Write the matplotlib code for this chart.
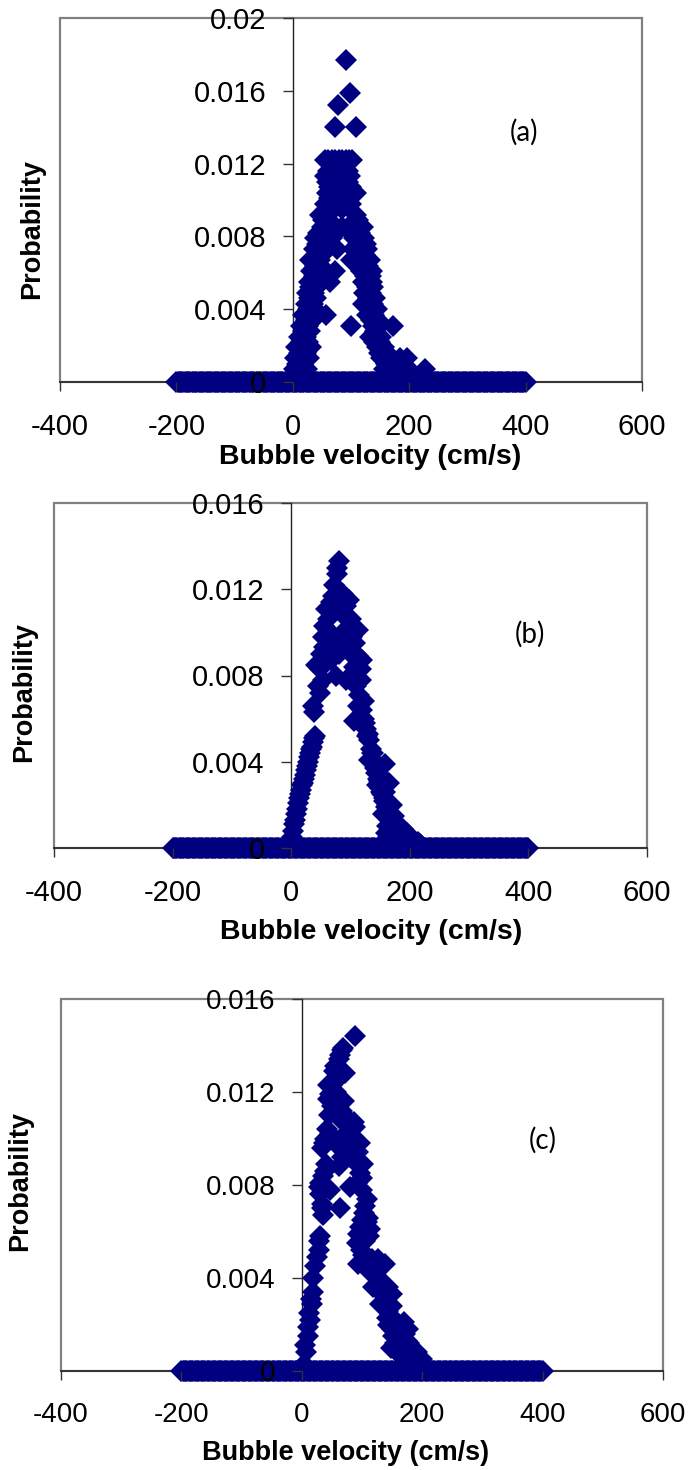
import numpy as np
import matplotlib
matplotlib.use("Agg")
import matplotlib.pyplot as plt
from matplotlib.patches import Rectangle

# ---------------- data ----------------
# histogram bin centres where the probability is zero (-200 .. 400 cm/s)
zero_start, zero_stop, zero_step = -200, 400, 2

# Panel (a): probability levels and the velocities sitting on each level
a_levels = [0.0177, 0.0159, 0.0152, 0.0140, 0.0122, 0.0116, 0.0113, 0.0110,
            0.0107, 0.0104, 0.0101, 0.0098, 0.0095, 0.0092, 0.0089, 0.0085,
            0.0082, 0.0079, 0.0076, 0.0073, 0.0070, 0.0067, 0.0064, 0.0061,
            0.0058, 0.0055, 0.0052, 0.0049, 0.0046, 0.0043, 0.0040, 0.0037,
            0.0034, 0.0031, 0.0028, 0.0025, 0.0022, 0.0019, 0.0016, 0.0013,
            0.0010, 0.0007, 0.0004]
a_vels = [[91], [98], [78], [73, 108],
          [55, 61, 67, 73, 79, 85, 91, 97, 101],
          [60, 68, 76, 86, 94], [56, 64, 72, 90, 98], [58, 66, 80, 94],
          [62, 70, 84, 100], [58, 66, 74, 90, 98, 108], [62, 70, 82, 94],
          [56, 66, 76, 88, 100], [60, 70, 84], [46, 108], [52, 112],
          [50, 58, 66, 74, 84, 94, 104, 112, 120],
          [44, 56, 100, 116], [38, 48, 68, 106, 122], [42, 54, 112, 126],
          [36, 46, 76, 104, 118, 128], [40, 50, 110, 124],
          [30, 36, 46, 100, 116, 132], [38, 48, 120, 130],
          [32, 44, 72, 118, 136], [36, 46, 124, 134], [28, 40, 64, 120, 136],
          [30, 42, 128, 138], [24, 36, 122, 134], [28, 40, 130, 142],
          [22, 34, 120, 126, 138], [26, 38, 132, 144], [18, 30, 57, 128, 140],
          [22, 34, 134, 146], [14, 26, 100, 138, 148, 172], [18, 30, 142],
          [10, 22, 132, 144, 152], [14, 26, 140, 150], [6, 18, 32, 144, 156],
          [10, 22, 148, 162], [4, 14, 28, 152, 170, 184, 196],
          [8, 18, 160, 176, 190], [2, 12, 24, 156, 168, 182, 200, 228],
          [6, 16, 162, 174, 188, 206]]

# Panel (b)
vel_b = [0, 2, 3, 5, 7, 8, 10, 12, 13, 15, 17, 18, 20, 22, 23, 25, 27, 28, 30,
         32, 33, 35, 37, 39, 40,
         36, 39, 45, 48, 53, 48, 42, 53, 50, 56, 53, 62, 56, 62, 59, 67, 70,
         73, 78, 78, 81,
         87, 98, 92, 84, 101, 112, 90, 84, 95, 76, 81, 67, 98, 112, 120, 106,
         76, 92, 104, 109, 115, 112, 106, 120, 123, 126, 132, 134, 132, 140,
         143, 146, 154, 151, 157, 162, 165, 160, 174, 179, 188, 196, 204, 213,
         221, 171, 182, 154, 158, 163, 165, 150, 145, 168, 138, 128,
         125, 129, 136, 138, 141, 148, 150, 153, 156, 160, 163, 167, 170, 176,
         184, 192, 200, 208, 217, 145, 158, 170, 162, 118, 122, 117, 108, 103]
prob_b = [0.0002, 0.0005, 0.0008, 0.0011, 0.0013, 0.0016, 0.0018, 0.0021,
          0.0023, 0.0025, 0.0027, 0.0029, 0.0030, 0.0032, 0.0034, 0.0036,
          0.0038, 0.0040, 0.0042, 0.0044, 0.0046, 0.0047, 0.0049, 0.0051,
          0.0052,
          0.0066, 0.0063, 0.0075, 0.0072, 0.0078, 0.0083, 0.0085, 0.0087,
          0.0090, 0.0093, 0.0098, 0.0101, 0.0103, 0.0106, 0.0111, 0.0114,
          0.0117, 0.0122, 0.0127, 0.0130, 0.0133,
          0.0118, 0.0115, 0.0112, 0.0109, 0.0106, 0.0101, 0.0101, 0.0098,
          0.0095, 0.0094, 0.0090, 0.0087, 0.0091, 0.0089, 0.0087, 0.0084,
          0.0080, 0.0078, 0.0080, 0.0075, 0.0071, 0.0066, 0.0059, 0.0064,
          0.0060, 0.0055, 0.0050, 0.0046, 0.0041, 0.0039, 0.0035, 0.0032,
          0.0030, 0.0026, 0.0022, 0.0020, 0.0016, 0.0007, 0.0015, 0.0011,
          0.0009, 0.0007, 0.0004, 0.0003, 0.0001, 0.0008, 0.0006, 0.0016,
          0.0039, 0.0005, 0.0030, 0.0034, 0.0037, 0.0012, 0.0044, 0.0052,
          0.0058, 0.0053, 0.0044, 0.0041, 0.0037, 0.0031, 0.0028, 0.0025,
          0.0023, 0.0019, 0.0017, 0.0014, 0.0012, 0.0010, 0.0008, 0.0006,
          0.0005, 0.0003, 0.0002, 0.0029, 0.0026, 0.0020, 0.0010, 0.0078,
          0.0068, 0.0083, 0.0095, 0.0098]

# Panel (c)
vel_c = [3, 7, 11, 14, 17, 19, 18, 22, 25, 28, 28, 30, 12, 10, 15, 5,
         36, 33, 30, 28, 36, 39, 41, 33, 39, 47, 50, 47, 53, 50, 44, 58, 58,
         53, 66, 61, 66, 69, 89,
         47, 64, 61, 66, 72, 80, 83, 89, 78, 97, 94, 102, 91, 58, 69, 75, 66,
         61, 64, 80, 86,
         80, 91, 100, 108, 105, 100, 108, 114, 94, 91, 105, 111,
         94, 105, 116, 127, 138, 111, 119, 127, 136, 144, 150, 130, 138, 150,
         141, 144, 155, 169, 177, 152, 163, 174, 183, 191, 199, 158, 169, 185,
         166, 149,
         97, 100, 104, 110, 96, 98, 102, 108, 112, 120, 132, 125, 130, 134,
         140, 144, 147, 150, 156, 160, 166, 172, 178, 164, 176, 188, 193, 172,
         155, 45, 42, 37, 30, 34, 44, 55, 63, 72, 56, 70, 85]
prob_c = [0.0003, 0.0008, 0.0015, 0.0022, 0.0029, 0.0034, 0.0040, 0.0045,
          0.0049, 0.0052, 0.0056, 0.0058, 0.0025, 0.0019, 0.0031, 0.0011,
          0.0067, 0.0072, 0.0076, 0.0079, 0.0084, 0.0086, 0.0089, 0.0096,
          0.0100, 0.0102, 0.0114, 0.0119, 0.0119, 0.0123, 0.0123, 0.0125,
          0.0129, 0.0129, 0.0129, 0.0134, 0.0138, 0.0139, 0.0144,
          0.0078, 0.0070, 0.0088, 0.0092, 0.0095, 0.0092, 0.0101, 0.0105,
          0.0105, 0.0098, 0.0094, 0.0089, 0.0089, 0.0097, 0.0101, 0.0109,
          0.0112, 0.0109, 0.0111, 0.0107, 0.0107,
          0.0079, 0.0081, 0.0078, 0.0074, 0.0071, 0.0065, 0.0064, 0.0061,
          0.0059, 0.0055, 0.0056, 0.0058,
          0.0046, 0.0048, 0.0048, 0.0048, 0.0046, 0.0043, 0.0036, 0.0038,
          0.0035, 0.0036, 0.0033, 0.0029, 0.0028, 0.0028, 0.0023, 0.0020,
          0.0021, 0.0021, 0.0018, 0.0015, 0.0013, 0.0013, 0.0010, 0.0008,
          0.0005, 0.0008, 0.0003, 0.0001, 0.0006, 0.0010,
          0.0085, 0.0083, 0.0068, 0.0066, 0.0062, 0.0052, 0.0050, 0.0046,
          0.0047, 0.0045, 0.0045, 0.0041, 0.0039, 0.0033, 0.0031, 0.0026,
          0.0024, 0.0018, 0.0017, 0.0016, 0.0018, 0.0016, 0.0012, 0.0010,
          0.0007, 0.0004, 0.0003, 0.0004, 0.0012, 0.0110, 0.0104, 0.0098,
          0.0081, 0.0070, 0.0117, 0.0131, 0.0136, 0.0128, 0.0120, 0.0116,
          0.0100]

x_ticks = [-400, -200, 0, 200, 400, 600]
y_ticks_a = [0, 0.004, 0.008, 0.012, 0.016, 0.02]
y_labels_a = ["0", "0.004", "0.008", "0.012", "0.016", "0.02"]
y_ticks_bc = [0, 0.004, 0.008, 0.012, 0.016]
y_labels_bc = ["0", "0.004", "0.008", "0.012", "0.016"]
panel_tags = ["(a)", "(b)", "(c)"]
x_title = "Bubble velocity (cm/s)"
y_title = "Probability"

# ---------------- figure ----------------
W, H = 691, 1470
fig = plt.figure(figsize=(W / 100, H / 100), dpi=100)

navy = "#000080"
tick_font = "Liberation Sans"
MS = 11

# axes rectangles in pixels: left, top, right, bottom
rects = [(60, 18, 642, 382), (54, 503, 647, 848), (61, 999, 663, 1371)]

a_v = [v for row in a_vels for v in row]
a_p = [lev for lev, row in zip(a_levels, a_vels) for _ in row]
zero_v = np.arange(zero_start, zero_stop + zero_step, zero_step)

panels = [
    dict(v=a_v, p=a_p, ymax=0.02, yt=y_ticks_a, yl=y_labels_a,
         xlab=(0.533, -0.206), ylab=(-0.048, 0.42), tag=(0.797, 0.687),
         fs=21, xfs=20.5, yfs=19.5),
    dict(v=vel_b, p=prob_b, ymax=0.016, yt=y_ticks_bc, yl=y_labels_bc,
         xlab=(0.534, -0.243), ylab=(-0.051, 0.452), tag=(0.803, 0.62),
         fs=21, xfs=20.5, yfs=19.5),
    dict(v=vel_c, p=prob_c, ymax=0.016, yt=y_ticks_bc, yl=y_labels_bc,
         xlab=(0.473, -0.22), ylab=(-0.068, 0.51), tag=(0.80, 0.62),
         fs=20, xfs=19.5, yfs=19.5),
]

for (l, t, r, b), pan, tag in zip(rects, panels, panel_tags):
    ax = fig.add_axes([l / W, 1 - b / H, (r - l) / W, (b - t) / H])
    ax.set_xlim(-400, 600)
    ax.set_ylim(0, pan["ymax"])
    ax.set_axisbelow(False)

    ax.plot(zero_v, np.zeros_like(zero_v, dtype=float), "D", color=navy,
            ms=MS, mew=0, zorder=2.2, clip_on=False)
    ax.plot(pan["v"], pan["p"], "D", color=navy, ms=MS, mew=0,
            zorder=2.2, clip_on=False)

    for s in ["top", "right"]:
        ax.spines[s].set_visible(False)
    ax.spines["left"].set_position(("data", 0))
    ax.spines["left"].set_color("#222222")
    ax.spines["left"].set_linewidth(1.0)
    ax.spines["bottom"].set_color("#333333")
    ax.spines["bottom"].set_linewidth(1.4)
    ax.spines["left"].set_zorder(2.0)
    ax.spines["bottom"].set_zorder(2.0)
    ax.add_patch(Rectangle((0, 0), 1, 1, transform=ax.transAxes, fill=False,
                           ec="#808080", lw=1.6, clip_on=False, zorder=1.9))

    ax.set_xticks(x_ticks)
    ax.set_xticklabels([str(x) for x in x_ticks])
    ax.set_yticks(pan["yt"])
    ax.set_yticklabels(pan["yl"])
    ax.tick_params(axis="x", direction="out", length=6.5, width=1.0,
                   color="#333333", pad=16)
    ax.tick_params(axis="y", direction="out", length=7, width=1.0,
                   color="#333333", pad=12)
    for lab in ax.get_xticklabels() + ax.get_yticklabels():
        lab.set_fontfamily(tick_font)
        lab.set_fontsize(pan["fs"])
        lab.set_color("black")

    ax.text(pan["xlab"][0], pan["xlab"][1], x_title, transform=ax.transAxes,
            ha="center", va="center", fontsize=pan["xfs"], fontweight="bold",
            family=tick_font)
    ax.text(pan["ylab"][0], pan["ylab"][1], y_title, transform=ax.transAxes,
            ha="center", va="center", fontsize=pan["yfs"], fontweight="bold",
            family=tick_font, rotation=90)
    ax.text(pan["tag"][0], pan["tag"][1], tag, transform=ax.transAxes,
            ha="center", va="center", fontsize=20,
            family=["Lato", "DejaVu Sans"])

fig.savefig("out.png", dpi=100)
